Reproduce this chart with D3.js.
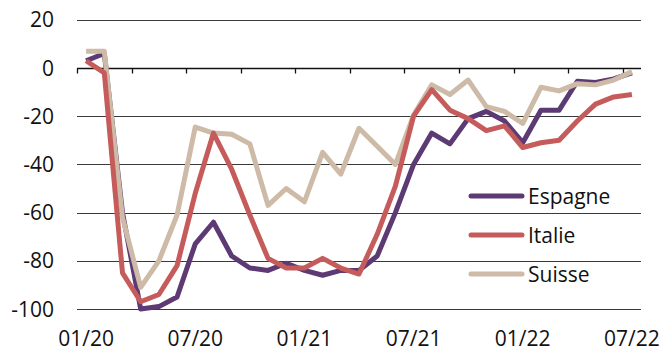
<!DOCTYPE html>
<html>
<head>
<meta charset="utf-8">
<script src="https://cdn.jsdelivr.net/npm/d3@7/dist/d3.min.js"></script>
<style>
  html, body { margin: 0; padding: 0; background: #fff; }
  svg { display: block; font-family: "Open Sans", "Noto Sans", sans-serif; }
</style>
</head>
<body>
<svg id="chart" width="663" height="351"></svg>
<script>
// Monthly index, 01/2020 to 07/2022
const months = [
  "01/20","02/20","03/20","04/20","05/20","06/20","07/20","08/20","09/20","10/20","11/20","12/20",
  "01/21","02/21","03/21","04/21","05/21","06/21","07/21","08/21","09/21","10/21","11/21","12/21",
  "01/22","02/22","03/22","04/22","05/22","06/22","07/22"
];
const espagne = [3, 6, -60, -100, -99, -95, -73, -64, -78, -83, -84, -81, -84, -86, -84, -84, -78, -60, -40, -27, -31.5, -21, -18, -22, -31, -17.5, -17.5, -5.5, -6, -4.5, -2];
const italie  = [3, -2, -85, -97, -94, -82, -52, -27, -42, -61, -79, -83, -83, -79, -83, -85.5, -69, -49, -20, -9, -17.5, -21, -26, -24, -33, -31, -30, -22, -15, -12, -11];
const suisse  = [7, 7, -62, -91, -80, -61, -24.5, -27, -27.5, -31.5, -57, -50, -55.5, -35, -44, -25, -32.5, -40, -19.5, -7, -11, -5, -16, -18, -23, -8, -9.5, -6.5, -7, -5, -1.5];
const yTicks = [20, 0, -20, -40, -60, -80, -100];
const xLabels = ["01/20", "07/20", "01/21", "07/21", "01/22", "07/22"];

const series = [
  { name: "Espagne", values: espagne, color: "#5d3a73" },
  { name: "Suisse",  values: suisse,  color: "#cdbaa7" },
  { name: "Italie",  values: italie,  color: "#c65b5b" }
];
const legendOrder = ["Espagne", "Italie", "Suisse"];

const svg = d3.select("#chart");
const plotLeft = 77, plotRight = 641, plotTop = 19.8, plotBottom = 309;

const x = d3.scaleBand().domain(months).range([plotLeft, plotRight]).paddingInner(0).paddingOuter(0);
const y = d3.scaleLinear().domain([-100, 20]).range([plotBottom, plotTop]);
const cx = m => x(m) + x.bandwidth() / 2;

// horizontal gridlines
svg.append("g")
  .selectAll("line")
  .data(yTicks.filter(v => v !== 0))
  .join("line")
  .attr("x1", plotLeft).attr("x2", plotRight)
  .attr("y1", d => Math.round(y(d)) + 0.5).attr("y2", d => Math.round(y(d)) + 0.5)
  .attr("stroke", "#3a3a3a").attr("stroke-width", 1);

// y-axis labels
svg.append("g")
  .selectAll("text")
  .data(yTicks)
  .join("text")
  .attr("x", 54)
  .attr("y", d => y(d) + 7.5)
  .attr("text-anchor", "end")
  .attr("font-size", 21)
  .attr("fill", "#111")
  .text(d => d);

// zero line with ticks at every third month boundary
const zeroY = Math.round(y(0)) + 0.5;
svg.append("line")
  .attr("x1", plotLeft).attr("x2", plotRight)
  .attr("y1", zeroY).attr("y2", zeroY)
  .attr("stroke", "#111").attr("stroke-width", 1.3);
const tickBounds = months.filter((m, i) => i % 3 === 0).map(m => x(m));
svg.append("g")
  .selectAll("line")
  .data(tickBounds)
  .join("line")
  .attr("x1", d => Math.round(d) + 0.5).attr("x2", d => Math.round(d) + 0.5)
  .attr("y1", zeroY).attr("y2", zeroY + 5)
  .attr("stroke", "#111").attr("stroke-width", 1.3);

// x-axis labels
svg.append("g")
  .selectAll("text")
  .data(xLabels)
  .join("text")
  .attr("x", d => cx(d))
  .attr("y", 345.5)
  .attr("text-anchor", "middle")
  .attr("font-size", 21)
  .attr("fill", "#111")
  .text(d => d);

// series lines
const line = d3.line()
  .x((d, i) => cx(months[i]))
  .y(d => y(d));

svg.append("g")
  .selectAll("path")
  .data(series)
  .join("path")
  .attr("d", d => line(d.values))
  .attr("fill", "none")
  .attr("stroke", d => d.color)
  .attr("stroke-width", 5)
  .attr("stroke-linejoin", "round");

// legend
const legend = svg.append("g");
legendOrder.forEach((name, i) => {
  const s = series.find(d => d.name === name);
  const ly = 196 + i * 39;
  legend.append("line")
    .attr("x1", 471).attr("x2", 522)
    .attr("y1", ly).attr("y2", ly)
    .attr("stroke", s.color).attr("stroke-width", 5)
    .attr("stroke-linecap", "round");
  legend.append("text")
    .attr("x", 528)
    .attr("y", ly + 7.5)
    .attr("font-size", 21)
    .attr("fill", "#111")
    .text(name);
});
</script>
</body>
</html>
